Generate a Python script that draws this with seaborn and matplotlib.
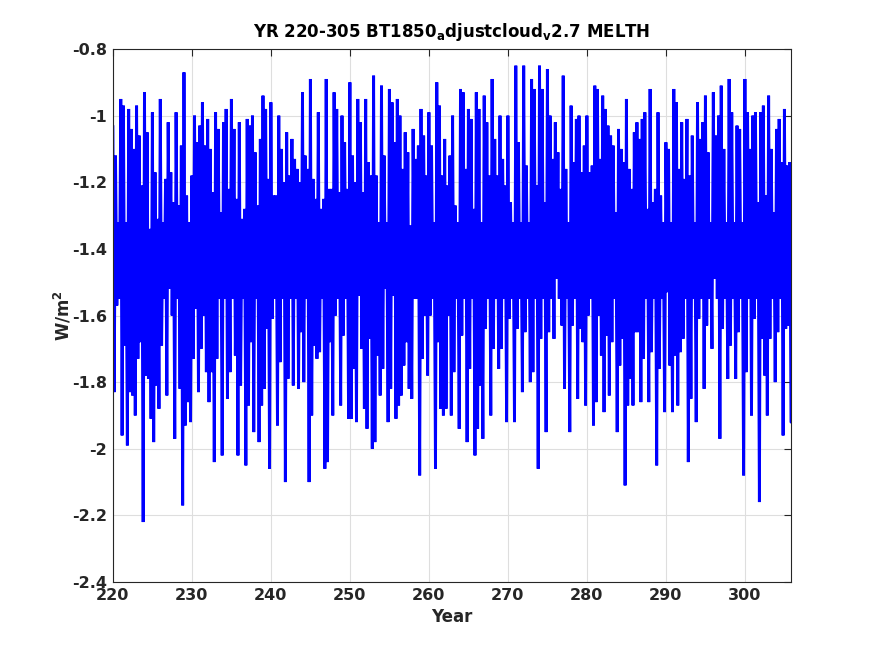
import numpy as np
import pandas as pd
import matplotlib
matplotlib.use("Agg")
import matplotlib.pyplot as plt
import seaborn as sns

# MELTH, BT1850_adjustcloud_v2.7, YR 220-305
# per model year: three upper and three lower excursions (W/m^2)
years = list(range(220, 306))

highs = [
    [-1.03, -1.12, -1.32], [-0.95, -0.97, -1.32], [-0.98, -1.04, -1.10], [-0.97, -1.06, -1.21],
    [-0.93, -1.05, -1.34], [-0.99, -1.17, -1.31], [-0.95, -1.32, -1.19], [-1.02, -1.17, -1.26],
    [-0.99, -1.27, -1.09], [-0.87, -1.24, -1.32], [-1.18, -1.00, -1.08], [-1.03, -0.96, -1.09],
    [-1.01, -1.10, -1.23], [-0.99, -1.04, -1.29], [-1.02, -0.98, -1.22], [-0.95, -1.04, -1.25],
    [-1.02, -1.31, -1.28], [-1.01, -1.03, -1.00], [-1.11, -1.27, -1.07], [-0.94, -0.98, -1.19],
    [-0.96, -1.24, -1.24], [-1.00, -1.10, -1.20], [-1.05, -1.18, -1.07], [-1.13, -1.16, -1.20],
    [-0.93, -1.12, -1.16], [-0.89, -1.19, -1.25], [-0.99, -1.28, -1.25], [-0.89, -1.22, -1.22],
    [-0.93, -0.98, -1.23], [-1.00, -1.08, -1.22], [-0.90, -1.12, -1.20], [-0.95, -1.02, -1.23],
    [-0.95, -1.14, -1.18], [-0.88, -1.18, -1.32], [-0.91, -1.12, -1.32], [-0.92, -0.96, -1.08],
    [-0.95, -1.00, -1.16], [-1.05, -1.11, -1.33], [-1.04, -1.13, -1.09], [-0.98, -1.06, -1.18],
    [-0.99, -1.09, -1.32], [-0.90, -0.97, -1.18], [-1.07, -1.21, -1.12], [-1.00, -1.27, -1.32],
    [-0.92, -0.93, -1.16], [-0.98, -1.01, -1.28], [-0.93, -0.98, -1.32], [-0.94, -1.02, -1.18],
    [-0.89, -1.07, -1.18], [-1.00, -1.13, -1.21], [-1.00, -1.26, -1.32], [-0.85, -1.08, -1.32],
    [-0.85, -1.15, -1.32], [-0.89, -0.92, -1.21], [-0.85, -0.92, -1.26], [-0.86, -1.00, -1.13],
    [-1.02, -1.11, -1.22], [-0.88, -1.16, -1.32], [-0.97, -1.14, -1.01], [-1.00, -1.17, -1.09],
    [-1.00, -1.17, -1.15], [-0.91, -0.92, -1.13], [-0.94, -0.98, -1.03], [-1.06, -1.09, -1.29],
    [-1.04, -1.10, -1.14], [-0.95, -1.16, -1.22], [-1.05, -1.02, -1.07], [-1.01, -0.99, -1.28],
    [-0.92, -1.26, -1.22], [-0.99, -1.24, -1.32], [-1.08, -1.10, -1.32], [-0.92, -0.96, -1.16],
    [-1.02, -1.19, -1.01], [-1.18, -1.06, -1.32], [-0.96, -1.07, -1.02], [-0.94, -1.11, -1.32],
    [-0.93, -1.06, -1.00], [-0.91, -1.10, -1.32], [-0.89, -0.99, -1.32], [-1.03, -1.04, -1.32],
    [-0.89, -0.99, -1.10], [-1.00, -0.99, -1.26], [-0.99, -0.97, -1.24], [-0.94, -1.10, -1.29],
    [-1.04, -1.01, -1.14], [-0.98, -1.15, -1.14],
]

lows = [
    [-1.83, -1.57, -1.55], [-1.96, -1.69, -1.99], [-1.83, -1.84, -1.90], [-1.73, -1.68, -2.22],
    [-1.78, -1.79, -1.91], [-1.98, -1.81, -1.88], [-1.69, -1.55, -1.84], [-1.52, -1.60, -1.97],
    [-1.55, -1.82, -2.17], [-1.93, -1.86, -1.92], [-1.73, -1.58, -1.83], [-1.70, -1.60, -1.77],
    [-1.86, -1.77, -2.04], [-1.73, -1.55, -2.02], [-1.55, -1.85, -1.77], [-1.55, -1.72, -2.02],
    [-1.81, -1.55, -2.05], [-1.87, -1.68, -1.95], [-1.55, -1.98, -1.87], [-1.82, -1.64, -2.06],
    [-1.61, -1.55, -1.93], [-1.74, -1.55, -2.10], [-1.79, -1.55, -1.81], [-1.55, -1.82, -1.65],
    [-1.80, -1.55, -2.10], [-1.90, -1.69, -1.73], [-1.71, -1.55, -2.06], [-2.04, -1.68, -1.90],
    [-1.60, -1.55, -1.87], [-1.66, -1.55, -1.91], [-1.91, -1.76, -1.92], [-1.54, -1.70, -1.88],
    [-1.94, -1.67, -2.00], [-1.98, -1.72, -1.84], [-1.76, -1.52, -1.92], [-1.82, -1.54, -1.91],
    [-1.87, -1.84, -1.75], [-1.68, -1.82, -1.85], [-1.55, -1.55, -2.08], [-1.73, -1.60, -1.78],
    [-1.60, -1.55, -2.06], [-1.68, -1.88, -1.90], [-1.88, -1.60, -1.90], [-1.77, -1.55, -1.94],
    [-1.66, -1.55, -1.98], [-1.76, -1.55, -2.02], [-1.94, -1.81, -1.97], [-1.64, -1.55, -1.90],
    [-1.70, -1.55, -1.76], [-1.70, -1.55, -1.92], [-1.61, -1.55, -1.92], [-1.64, -1.55, -1.83],
    [-1.65, -1.55, -1.80], [-1.77, -1.55, -2.06], [-1.67, -1.55, -1.95], [-1.65, -1.55, -1.67],
    [-1.49, -1.55, -1.63], [-1.82, -1.55, -1.95], [-1.63, -1.55, -1.85], [-1.64, -1.68, -1.87],
    [-1.60, -1.55, -1.93], [-1.86, -1.60, -1.72], [-1.89, -1.66, -1.84], [-1.68, -1.55, -1.95],
    [-1.75, -1.67, -2.11], [-1.87, -1.79, -1.87], [-1.65, -1.65, -1.86], [-1.73, -1.55, -1.86],
    [-1.71, -1.55, -2.05], [-1.76, -1.55, -1.89], [-1.53, -1.75, -1.89], [-1.72, -1.87, -1.71],
    [-1.67, -1.55, -2.04], [-1.85, -1.55, -1.92], [-1.61, -1.55, -1.82], [-1.63, -1.55, -1.70],
    [-1.49, -1.55, -1.97], [-1.64, -1.55, -1.79], [-1.69, -1.55, -1.79], [-1.65, -1.55, -2.08],
    [-1.77, -1.55, -1.90], [-1.61, -1.55, -2.16], [-1.67, -1.78, -1.90], [-1.67, -1.55, -1.80],
    [-1.65, -1.55, -1.96], [-1.64, -1.63, -1.92],
]

# interleave high/low excursions on a bimonthly time axis
t, melth = [], []
for yr, hs, ls in zip(years, highs, lows):
    for k in range(3):
        t += [yr + (2 * k) / 6, yr + (2 * k + 1) / 6]
        melth += [hs[k], ls[k]]
df = pd.DataFrame({"year": t, "melth": melth})

sns.set_style("white")
plt.rcParams["font.family"] = ["DejaVu Sans"]
plt.rcParams["font.weight"] = "bold"
plt.rcParams["mathtext.default"] = "bf"

fig = plt.figure(figsize=(8.75, 6.56), dpi=100)
ax = fig.add_axes([0.129, 0.1128, 0.775, 0.8125])

sns.lineplot(data=df, x="year", y="melth", color="#0000ff", linewidth=2.1,
             estimator=None, sort=False, ax=ax, solid_joinstyle="bevel")

ax.set_xlim(df["year"].min(), df["year"].max())
ax.set_ylim(-2.4, -0.8)
ax.set_xticks(range(220, 301, 10))
ax.set_yticks(np.arange(-2.4, -0.79, 0.2))
ax.set_yticklabels(["-2.4", "-2.2", "-2", "-1.8", "-1.6", "-1.4", "-1.2", "-1", "-0.8"])

ax.grid(True, color="#dedede", linewidth=0.8)
ax.set_axisbelow(True)
for s in ax.spines.values():
    s.set_color("#262626")
    s.set_linewidth(0.8)
ax.tick_params(direction="in", length=5, width=0.8, top=True, right=True,
               colors="#262626", labelsize=11.5, pad=4)
for lab in ax.get_xticklabels() + ax.get_yticklabels():
    lab.set_fontweight("bold")

ax.set_xlabel("Year", fontsize=12, fontweight="bold", color="#262626", labelpad=4)
ax.set_ylabel("W/m$^2$", fontsize=12, fontweight="bold", color="#262626", labelpad=-1)
ax.set_title("YR 220-305 BT1850$_a$djustcloud$_v$2.7 MELTH",
             fontsize=12, fontweight="bold", color="black", pad=9)

fig.savefig("out.png", dpi=100)
plt.close(fig)
